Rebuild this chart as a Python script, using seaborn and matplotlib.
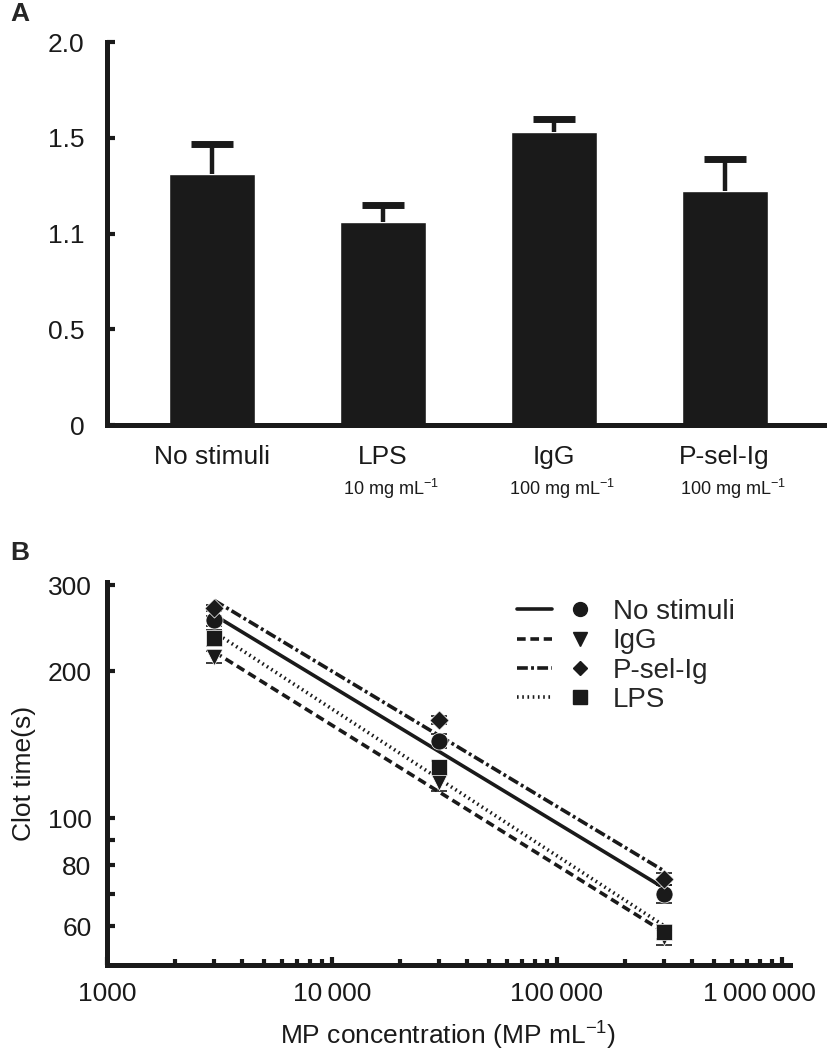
import numpy as np
import pandas as pd
import seaborn as sns
import matplotlib.pyplot as plt
from matplotlib.lines import Line2D
from matplotlib.legend_handler import HandlerTuple
from matplotlib.ticker import NullLocator, LogLocator
from matplotlib.transforms import ScaledTranslation

# ---- panel A data ----
conditions = ["No stimuli", "LPS", "IgG", "P-sel-Ig"]
doses = ["", "10 mg mL$^{-1}$", "100 mg mL$^{-1}$", "100 mg mL$^{-1}$"]
ratio = [1.31, 1.06, 1.53, 1.22]
ratio_err = [0.16, 0.09, 0.07, 0.17]
ytick_vals = [0, 0.5, 1.0, 1.5, 2.0]
ytick_labels = ["0", "0.5", "1.1", "1.5", "2.0"]

# ---- panel B data ----
mp_conc = [3000, 30000, 300000]
groups = ["No stimuli", "IgG", "P-sel-Ig", "LPS"]
clot_no = [254, 144, 70]
clot_igg = [214, 118.5, 57]
clot_psel = [269, 159, 75]
clot_lps = [234, 127, 58.5]
err_no = [6, 5, 3]
err_igg = [6, 5, 2]
err_psel = [4, 3, 2]
err_lps = [9, 4, 2]

sns.set_style("ticks")
plt.rcParams["font.family"] = ["Liberation Sans", "DejaVu Sans"]
plt.rcParams["mathtext.fontset"] = "custom"
plt.rcParams["mathtext.rm"] = "Liberation Sans"
plt.rcParams["mathtext.it"] = "Liberation Sans:italic"
plt.rcParams["mathtext.bf"] = "Liberation Sans:bold"

ink = "#1a1a1a"
fs = 19
spine_w = 3.6

fig = plt.figure(figsize=(8.28, 10.5), dpi=100)
ax1 = fig.add_axes([0.129, 0.595, 0.870, 0.365])
ax2 = fig.add_axes([0.129, 0.081, 0.825, 0.365])

# ---------------- panel A ----------------
sns.barplot(x=conditions, y=ratio, color=ink, width=0.503, saturation=1,
            errorbar=None, ax=ax1)
eb = ax1.errorbar(range(len(conditions)), ratio, yerr=[np.zeros(4), ratio_err],
                  fmt="none", ecolor=ink, elinewidth=3.2, capsize=15, capthick=5)
# keep only the upper caps
for cap in eb[1]:
    if np.allclose(cap.get_ydata(), ratio):
        cap.set_visible(False)
ax1.set_xlim(-0.615, 3.6)
ax1.set_ylim(0, 2.0)
ax1.set_yticks(ytick_vals)
ax1.set_yticklabels(ytick_labels, fontsize=fs)
ax1.set_xticks(range(4))
ax1.set_xticklabels(conditions, fontsize=fs)
ax1.tick_params(axis="x", length=0, pad=14, colors=ink)
ax1.tick_params(axis="y", direction="in", length=6, width=3, pad=16, colors=ink)
for i, d in enumerate(doses):
    ax1.text(i + 0.05, -0.165, d, transform=ax1.get_xaxis_transform(),
             ha="center", va="center", fontsize=13, color=ink)
sns.despine(ax=ax1)
for s in ["left", "bottom"]:
    ax1.spines[s].set_linewidth(spine_w)
    ax1.spines[s].set_color(ink)
ax1.set_xlabel("")
fig.text(0.012, 0.987, "A", fontsize=fs, fontweight="bold", va="center")

# ---------------- panel B ----------------
series = {"No stimuli": (clot_no, err_no), "IgG": (clot_igg, err_igg),
          "P-sel-Ig": (clot_psel, err_psel), "LPS": (clot_lps, err_lps)}
rows = []
fit_rows = []
for g in groups:
    vals, errs = series[g]
    for x, y in zip(mp_conc, vals):
        rows.append({"conc": x, "clot": y, "group": g})
    k, b = np.polyfit(np.log10(mp_conc), np.log10(vals), 1)
    for x in [mp_conc[0], mp_conc[-1]]:
        fit_rows.append({"conc": x, "clot": 10 ** (b + k * np.log10(x)), "group": g})
pts = pd.DataFrame(rows)
fits = pd.DataFrame(fit_rows)

marker_map = {"No stimuli": "o", "IgG": "v", "P-sel-Ig": "D", "LPS": "s"}
dash_map = {"No stimuli": "", "IgG": (2.4, 1.3), "P-sel-Ig": (3.0, 0.9, 0.8, 0.9),
            "LPS": (0.45, 1.0)}
size_map = {"No stimuli": 150, "IgG": 140, "P-sel-Ig": 95, "LPS": 120}

ax2.set_xscale("log")
ax2.set_yscale("log")
sns.lineplot(data=fits, x="conc", y="clot", style="group", dashes=dash_map,
             color=ink, linewidth=2.6, legend=False, ax=ax2)
for g in groups:
    vals, errs = series[g]
    ax2.errorbar(mp_conc, vals, yerr=errs, fmt="none", ecolor=ink,
                 elinewidth=1.2, capsize=6, capthick=1.2, zorder=3)
    sub = pts[pts["group"] == g]
    sns.scatterplot(data=sub, x="conc", y="clot", marker=marker_map[g],
                    s=size_map[g], color=ink, edgecolor="white", linewidth=0.5,
                    legend=False, ax=ax2, zorder=4)

ax2.set_xlim(1000, 1.085e6)
ax2.set_ylim(50, 305)
ax2.set_yticks([60, 70, 80, 90, 100, 200, 300])
ax2.set_yticklabels(["60", "", "80", "", "100", "200", "300"], fontsize=fs)
ax2.yaxis.set_minor_locator(NullLocator())
ax2.set_xticks([1e3, 1e4, 1e5, 1e6])
ax2.set_xticklabels(["1000", "10\u2009000", "100\u2009000", "1\u2009000\u2009000"],
                    fontsize=fs)
ax2.xaxis.set_minor_locator(LogLocator(base=10, subs=np.arange(2, 10)))
ax2.tick_params(axis="both", which="major", direction="in", length=6, width=3,
                colors=ink)
ax2.tick_params(axis="y", pad=11)
ax2.tick_params(axis="x", which="major", pad=12)
ax2.tick_params(axis="x", which="minor", direction="in", length=4, width=3,
                colors=ink)
# last label sits against the right edge
last = ax2.get_xticklabels()[-1]
last.set_transform(last.get_transform() + ScaledTranslation(-16 / 72, 0, fig.dpi_scale_trans))
sns.despine(ax=ax2)
for s in ["left", "bottom"]:
    ax2.spines[s].set_linewidth(spine_w)
    ax2.spines[s].set_color(ink)
ax2.set_xlabel("MP concentration (MP mL$^{-1}$)", fontsize=fs, color=ink, labelpad=10)
ax2.set_ylabel("Clot time(s)", fontsize=fs, color=ink, labelpad=8)
fig.text(0.012, 0.473, "B", fontsize=fs, fontweight="bold", va="center")

handles = []
for g in groups:
    ln = Line2D([], [], color=ink, linewidth=2.6,
                linestyle="-" if dash_map[g] == "" else (0, dash_map[g]))
    mk = Line2D([], [], color=ink, marker=marker_map[g], linestyle="none",
                markersize=10 if g != "P-sel-Ig" else 7.5)
    handles.append((ln, mk))
ax2.legend(handles=handles, labels=groups, loc="upper left",
           bbox_to_anchor=(0.600, 0.955), frameon=False, fontsize=fs + 1,
           handler_map={tuple: HandlerTuple(ndivide=None, pad=0.35)},
           handlelength=2.9, handletextpad=0.55, labelspacing=0.12,
           borderpad=0, borderaxespad=0)

fig.savefig("out.png", dpi=100)
